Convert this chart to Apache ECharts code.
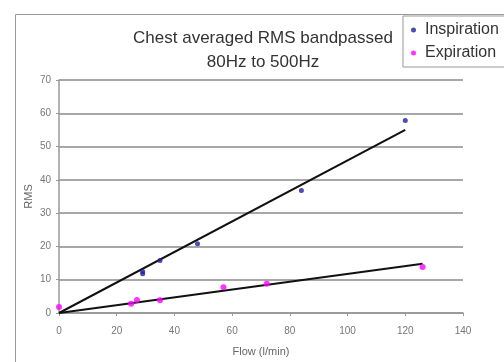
<!DOCTYPE html>
<html><head><meta charset="utf-8">
<script src="https://cdn.jsdelivr.net/npm/echarts@6/dist/echarts.min.js"></script>
<style>html,body{margin:0;padding:0;background:#fff}#c{width:504px;height:362px}</style>
</head><body><div id="c"></div>
<script>
const titleLines = ["Chest averaged RMS bandpassed", "80Hz to 500Hz"];
const xName = "Flow (l/min)";
const yName = "RMS";
const inspiration = [[29, 12.5], [29, 11.8], [35, 15.8], [48, 20.8], [84, 36.8], [120, 57.8]];
const expiration = [[0, 1.8], [25, 2.8], [27, 3.9], [35, 3.8], [57, 7.7], [72, 8.8], [126, 13.8]];
const inspTrend = [[0, 0], [120, 55]];
const expTrend = [[0, 0], [126, 14.8]];

const chart = echarts.init(document.getElementById('c'), null, {renderer: 'canvas'});
const font = 'Liberation Sans, Arial, sans-serif';
chart.setOption({
  animation: false,
  backgroundColor: '#fff',
  textStyle: {fontFamily: font},
  title: {
    text: titleLines.join('\n'),
    left: 258, top: 21, textAlign: 'center',
    textStyle: {fontSize: 17, fontWeight: 'normal', color: '#333', lineHeight: 24, fontFamily: font}
  },
  graphic: [{
    type: 'rect', z: -1, silent: true,
    shape: {x: 15.5, y: 14.5, width: 600, height: 400},
    style: {fill: 'none', stroke: '#999', lineWidth: 1}
  }],
  legend: {
    data: ['Inspiration', 'Expiration'],
    orient: 'vertical', left: 403, top: 16,
    padding: [6, 30, 6, 8],
    itemGap: 7,
    icon: 'circle', itemWidth: 5, itemHeight: 5,
    borderColor: '#999', borderWidth: 1, borderRadius: 0,
    backgroundColor: '#fff',
    textStyle: {fontSize: 16, color: '#333', fontFamily: font, padding: [0, 0, 0, 4]}
  },
  grid: {left: 59, right: 41, top: 80, bottom: 49},
  xAxis: {
    type: 'value', min: 0, max: 140, interval: 20,
    name: xName, nameLocation: 'middle', nameGap: 33, nameMoveOverlap: false,
    nameTextStyle: {fontSize: 11, color: '#666'},
    axisLine: {lineStyle: {color: '#999', width: 1.5}},
    axisTick: {show: true, length: 3, lineStyle: {color: '#999'}},
    axisLabel: {fontSize: 10, color: '#777', margin: 13},
    splitLine: {show: false}
  },
  yAxis: {
    type: 'value', min: 0, max: 70, interval: 10,
    name: yName, nameLocation: 'middle', nameGap: 25, nameRotate: 90, nameMoveOverlap: false,
    nameTextStyle: {fontSize: 11, color: '#666'},
    axisLine: {show: true, lineStyle: {color: '#999', width: 1.5}},
    axisTick: {show: true, length: 3, lineStyle: {color: '#999'}},
    axisLabel: {fontSize: 10, color: '#777', margin: 8},
    splitLine: {show: true, lineStyle: {color: '#8a8a8a', width: 1.5}}
  },
  series: [
    {name: 'Inspiration trend', type: 'line', data: inspTrend, symbol: 'none',
     lineStyle: {color: '#111', width: 2}, z: 3},
    {name: 'Expiration trend', type: 'line', data: expTrend, symbol: 'none',
     lineStyle: {color: '#111', width: 2}, z: 3},
    {name: 'Inspiration', type: 'scatter', data: inspiration, symbol: 'circle', symbolSize: 5,
     itemStyle: {color: '#1f1f9e'}, z: 4},
    {name: 'Expiration', type: 'scatter', data: expiration, symbol: 'circle', symbolSize: 6,
     itemStyle: {color: '#ff00ff'}, z: 4}
  ]
});
</script></body></html>
